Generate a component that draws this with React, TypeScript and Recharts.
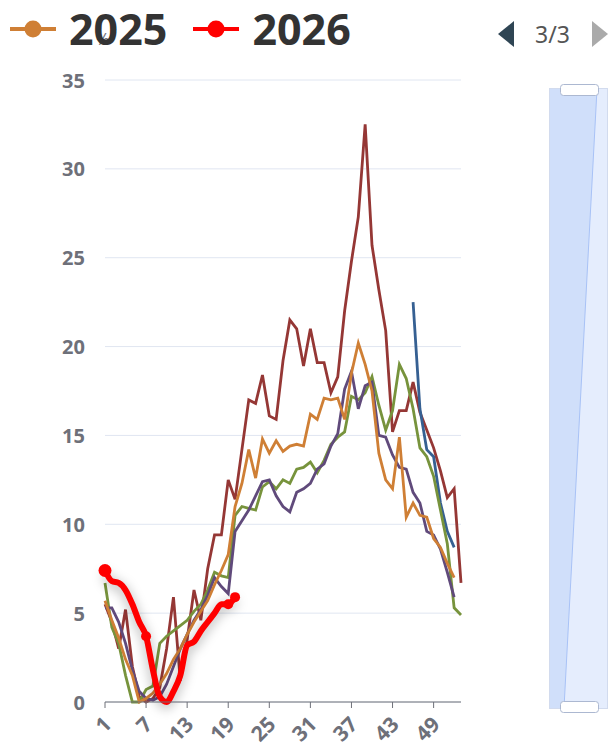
import { LineChart, Line, XAxis, YAxis, CartesianGrid } from "recharts";

const WEEKS = [
  1, 2, 3, 4, 5, 6, 7, 8, 9, 10, 11, 12, 13, 14, 15, 16, 17, 18, 19, 20,
  21, 22, 23, 24, 25, 26, 27, 28, 29, 30, 31, 32, 33, 34, 35, 36, 37, 38, 39, 40,
  41, 42, 43, 44, 45, 46, 47, 48, 49, 50, 51, 52, 53,
];

const Y_TICKS = [0, 5, 10, 15, 20, 25, 30, 35];

// older seasons (legend pages 1-2 are not shown)
const S2021 = [
  5.5, 4.5, 3.0, 5.2, 2.0, 0.3, 0.0, 0.2, 0.8, 3.0, 5.9, 1.2, 3.5, 6.3, 4.6, 7.5, 9.4, 9.4, 12.5, 11.4,
  14.2, 17.0, 16.8, 18.4, 16.1, 15.9, 19.2, 21.5, 21.0, 18.9, 21.0, 19.1, 19.1, 17.4, 18.3, 22.0, 24.8, 27.3, 32.5, 25.7,
  23.2, 20.9, 15.2, 16.4, 16.4, 18.0, 16.3, 15.3, 14.3, 13.0, 11.5, 12.0, 6.7,
];
const S2022 = [
  6.7, 4.2, 3.3, 1.5, 0, 0, 0.7, 0.9, 3.3, 3.7, 4.0, 4.3, 4.6, 5.1, 5.5, 6.3, 7.3, 7.1, 7.0, 10.5,
  11.0, 10.9, 10.8, 12.1, 12.4, 12.0, 12.5, 12.3, 13.1, 13.2, 13.5, 12.9, 13.6, 14.5, 14.9, 15.2, 17.2, 17.0, 17.4, 18.3,
  16.7, 15.3, 16.4, 19.0, 18.2, 16.5, 14.3, 13.8, 12.7, 10.8, 8.9, 5.3, 4.9,
];
const S2023 = [
  5.3, 5.3, 4.5, 3.3, 1.8, 0.6, 0.2, 0.1, 0.3, 1.0, 2.0, 3.0, 3.8, 4.6, 5.2, 6.0, 7.0, 6.5, 6.1, 9.6,
  10.2, 10.8, 11.6, 12.4, 12.5, 11.6, 11.0, 10.7, 11.8, 12.0, 12.3, 13.1, 13.4, 14.4, 15.1, 17.6, 18.6, 16.5, 17.8, 18.0,
  15.0, 14.9, 13.9, 13.2, 13.1, 11.8, 11.2, 9.6, 9.4, 8.6, 7.3, 5.9, null,
];
const S2024 = [
  null, null, null, null, null, null, null, null, null, null, null, null, null, null, null, null, null, null, null, null,
  null, null, null, null, null, null, null, null, null, null, null, null, null, null, null, null, null, null, null, null,
  null, null, null, null, null, 22.5, 16.5, 14.2, 13.8, 11.2, 9.6, 8.7, null,
];
const S2025 = [
  5.7, 4.6, 3.6, 2.4, 1.5, 0.0, 0.2, 0.5, 1.0, 1.6, 2.4, 3.0, 3.8, 4.5, 5.1, 5.7, 6.6, 7.4, 8.3, 11.0,
  12.3, 14.2, 12.6, 14.8, 14.0, 14.7, 14.1, 14.4, 14.5, 14.4, 16.2, 15.9, 17.1, 17.0, 17.1, 15.9, 18.5, 20.2, 19.0, 17.5,
  14.0, 12.5, 12.0, 14.9, 10.4, 11.2, 10.5, 10.4, 9.2, 8.7, 7.8, 7.0, null,
];
const S2026 = [
  7.4, 6.8, 6.7, 6.3, 5.5, 4.5, 3.7, 1.8, 0.3, 0.0, 0.6, 1.5, 3.2, 3.4, 4.0, 4.5, 5.0, 5.5, 5.5, 5.9,
];

const SERIES = [
  { key: "s2021", name: "2021", values: S2021, color: "#953735" },
  { key: "s2024", name: "2024", values: S2024, color: "#366092" },
  { key: "s2022", name: "2022", values: S2022, color: "#77933c" },
  { key: "s2023", name: "2023", values: S2023, color: "#604a7b" },
  { key: "s2025", name: "2025", values: S2025, color: "#cf7f35" },
  { key: "s2026", name: "2026", values: S2026, color: "#ff0000" },
];

const LEGEND_SHOWN = ["s2025", "s2026"];
const DOT_AT = [0, 6, 18, 19];

const rows = WEEKS.map((w, i) => {
  const r: Record<string, number | null> = { week: w };
  SERIES.forEach((s) => { r[s.key] = s.values[i] ?? null; });
  return r;
});

const FONT = "'Noto Sans', 'Open Sans', sans-serif";
const AXIS_GREY = "#6e7079";

const XTick = ({ x, y, payload }: any) => (
  <text x={x + 2} y={y + 10} transform={`rotate(-45 ${x + 2} ${y + 10})`} textAnchor="end"
    dominantBaseline="central" fontSize={21} fontWeight={700} fill={AXIS_GREY} fontFamily={FONT}>
    {payload.value}
  </text>
);

const YTick = ({ x, y, payload }: any) => (
  <text x={x} y={y} textAnchor="end" dominantBaseline="central"
    fontSize={20} fontWeight={700} fill={AXIS_GREY} fontFamily={FONT}>
    {payload.value}
  </text>
);

const RedDot = ({ cx, cy, index }: any) => {
  if (!DOT_AT.includes(index) || cx == null || cy == null) return <g key={index} />;
  return <circle key={index} cx={cx} cy={cy} r={index === 0 ? 6.5 : 5} fill="#ff0000" />;
};

function LegendBar() {
  const shown = SERIES.filter((s) => LEGEND_SHOWN.includes(s.key));
  return (
    <div style={{ position: "absolute", left: 10, top: 0, display: "flex", alignItems: "center", fontFamily: FONT }}>
      {shown.map((s) => (
        <div key={s.key} style={{ display: "flex", alignItems: "center", marginRight: 26 }}>
          <svg width={46} height={20}>
            <line x1={0} y1={10} x2={46} y2={10} stroke={s.color} strokeWidth={4} />
            <circle cx={23} cy={10} r={8.5} fill={s.color} />
          </svg>
          <span style={{ fontSize: 43, fontWeight: 700, color: "#333", marginLeft: 13, lineHeight: "58px" }}>{s.name}</span>
        </div>
      ))}
    </div>
  );
}

function Pager() {
  return (
    <div style={{ position: "absolute", left: 496, top: 18, display: "flex", alignItems: "center", fontFamily: FONT }}>
      <svg width={20} height={26}><polygon points="18,0 18,26 2,13" fill="#2f4554" /></svg>
      <span style={{ fontSize: 23, color: "#555", margin: "0 20px 0 19px" }}>3/3</span>
      <svg width={20} height={26}><polygon points="2,0 2,26 18,13" fill="#aaa" /></svg>
    </div>
  );
}

function Slider() {
  return (
    <svg style={{ position: "absolute", left: 540, top: 76 }} width={70} height={644}>
      <rect x={9.5} y={12.5} width={58} height={620} fill="#e5edfd" stroke="#d2dbee" />
      <polygon points="10,13 57,13 24,632 10,632" fill="#d0dffa" />
      <line x1={57} y1={13} x2={24} y2={632} stroke="#a8c2f6" strokeWidth={1} />
      <rect x={20.5} y={8.5} width={38} height={11} rx={3} fill="#fff" stroke="#acb8d1" />
      <rect x={20.5} y={625.5} width={38} height={11} rx={3} fill="#fff" stroke="#acb8d1" />
    </svg>
  );
}

export default function App() {
  return (
    <div style={{ position: "absolute", left: 0, top: 0, width: 610, height: 750, background: "#fff", overflow: "hidden" }}>
      <style>{`.red-line path { filter: drop-shadow(0 3px 6px rgba(0,0,0,0.35)); }`}</style>
      <div style={{ position: "absolute", left: 96, top: 28, fontSize: 16, color: AXIS_GREY, fontFamily: FONT }}>%</div>
      <LineChart width={610} height={750} data={rows} margin={{ top: 80, right: 149, bottom: 0, left: 0 }}>
        <CartesianGrid vertical={false} stroke="#e0e6f1" />
        <XAxis dataKey="week" interval={5} height={48} tick={<XTick />} tickSize={6}
          axisLine={{ stroke: AXIS_GREY }} tickLine={{ stroke: AXIS_GREY }} />
        <YAxis width={105} domain={[0, 35]} ticks={Y_TICKS} tick={<YTick />}
          axisLine={false} tickLine={false} tickSize={0} tickMargin={20} />
        {SERIES.map((s) =>
          s.key === "s2026" ? (
            <Line key={s.key} className="red-line" dataKey={s.key} name={s.name} type="monotone"
              stroke={s.color} strokeWidth={6} dot={<RedDot />} activeDot={false} isAnimationActive={false} />
          ) : (
            <Line key={s.key} dataKey={s.key} name={s.name} type="linear"
              stroke={s.color} strokeWidth={2.8} dot={false} activeDot={false} isAnimationActive={false} />
          )
        )}
      </LineChart>
      <LegendBar />
      <Pager />
      <Slider />
    </div>
  );
}
